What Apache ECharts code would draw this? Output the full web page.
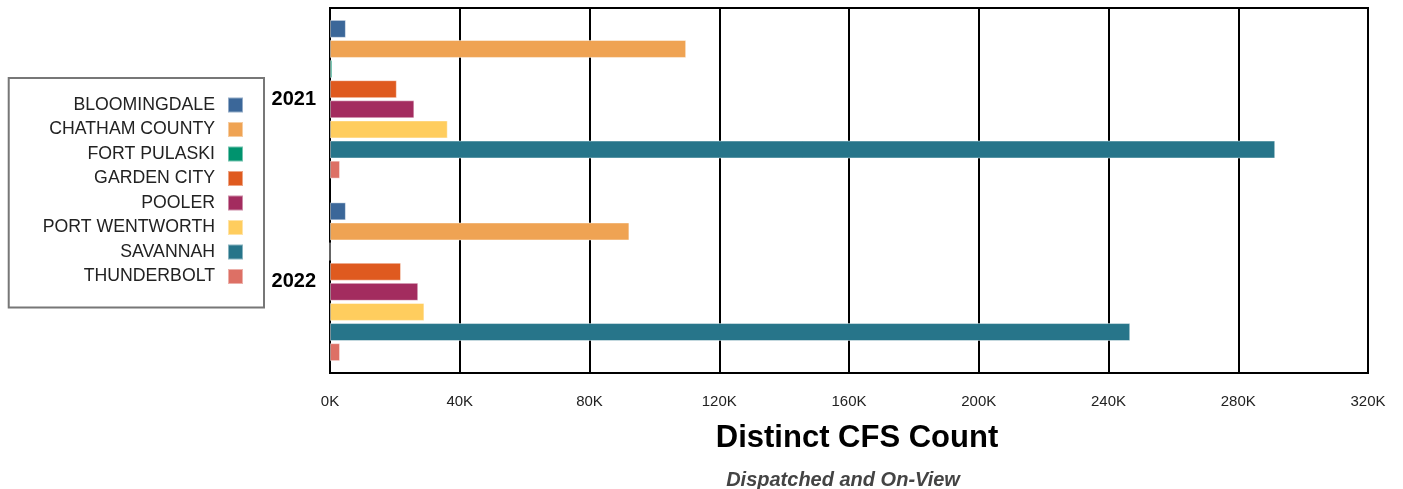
<!DOCTYPE html>
<html>
<head>
<meta charset="utf-8">
<script src="https://cdn.jsdelivr.net/npm/echarts@6/dist/echarts.min.js"></script>
<style>
  html, body { margin: 0; padding: 0; background: #fff; }
  #chart { width: 1403px; height: 489px; }
</style>
</head>
<body>
<div id="chart"></div>
<script>
// Distinct calls-for-service counts by agency and year
const years = ['2021', '2022'];
const agencies = ['BLOOMINGDALE', 'CHATHAM COUNTY', 'FORT PULASKI', 'GARDEN CITY',
                  'POOLER', 'PORT WENTWORTH', 'SAVANNAH', 'THUNDERBOLT'];
const bloomingdale  = [4900, 4900];
const chathamCounty = [109800, 92300];
const fortPulaski   = [700, 0];
const gardenCity    = [20600, 21900];
const pooler        = [26000, 27200];
const portWentworth = [36300, 29100];
const savannah      = [291400, 246700];
const thunderbolt   = [3100, 3100];
const xTickValues   = [0, 40000, 80000, 120000, 160000, 200000, 240000, 280000, 320000];

const seriesValues = [bloomingdale, chathamCounty, fortPulaski, gardenCity,
                      pooler, portWentworth, savannah, thunderbolt];
const colors = ['#3B6799', '#EFA353', '#00936E', '#DF5A1F',
                '#A32C5F', '#FFCD5E', '#27758A', '#DD7065'];

const font = "'Liberation Sans', Arial, sans-serif";
const chart = echarts.init(document.getElementById('chart'), null, { renderer: 'canvas' });

chart.setOption({
  animation: false,
  color: colors,
  textStyle: { fontFamily: font },
  grid: {
    left: 330, right: 35, top: 8, bottom: 116,
    show: true, borderColor: '#000', borderWidth: 2, backgroundColor: '#fff'
  },
  legend: {
    orient: 'vertical',
    align: 'right',
    right: 1139,
    top: 78,
    padding: [18, 20, 22, 34],
    borderColor: '#777',
    borderWidth: 2,
    backgroundColor: '#fff',
    icon: 'rect',
    itemWidth: 15,
    itemHeight: 15,
    itemGap: 6.5,
    data: agencies,
    textStyle: {
      fontFamily: font, fontSize: 17.7, color: '#222',
      padding: [0, 8, 0, 0]
    }
  },
  xAxis: {
    type: 'value',
    min: xTickValues[0],
    max: xTickValues[xTickValues.length - 1],
    interval: xTickValues[1] - xTickValues[0],
    axisLine: { show: false },
    axisTick: { show: false },
    splitLine: { show: true, lineStyle: { color: '#000', width: 2 } },
    axisLabel: {
      margin: 21,
      fontFamily: font, fontSize: 15, color: '#222',
      formatter: v => (v / 1000) + 'K'
    }
  },
  yAxis: {
    type: 'category',
    inverse: true,
    data: years,
    axisLine: { show: true, lineStyle: { color: '#000', width: 2 } },
    axisTick: { show: false },
    splitLine: { show: false },
    axisLabel: {
      margin: 14,
      fontFamily: font, fontSize: 20, fontWeight: 'bold', color: '#000'
    }
  },
  series: agencies.map((name, i) => ({
    name: name,
    type: 'bar',
    data: seriesValues[i],
    barCategoryGap: '13%',
    barGap: '12%',
    itemStyle: { borderColor: 'rgba(255,255,255,0.45)', borderWidth: 1 }
  })),
  graphic: [
    {
      type: 'text', x: 857, y: 438,
      style: {
        text: 'Distinct CFS Count', align: 'center', verticalAlign: 'middle',
        font: "bold 31px 'Liberation Sans', Arial, sans-serif", fill: '#000'
      }
    },
    {
      type: 'text', x: 843, y: 480,
      style: {
        text: 'Dispatched and On-View', align: 'center', verticalAlign: 'middle',
        font: "italic bold 20px 'Liberation Sans', Arial, sans-serif", fill: '#444'
      }
    }
  ]
});
</script>
</body>
</html>
